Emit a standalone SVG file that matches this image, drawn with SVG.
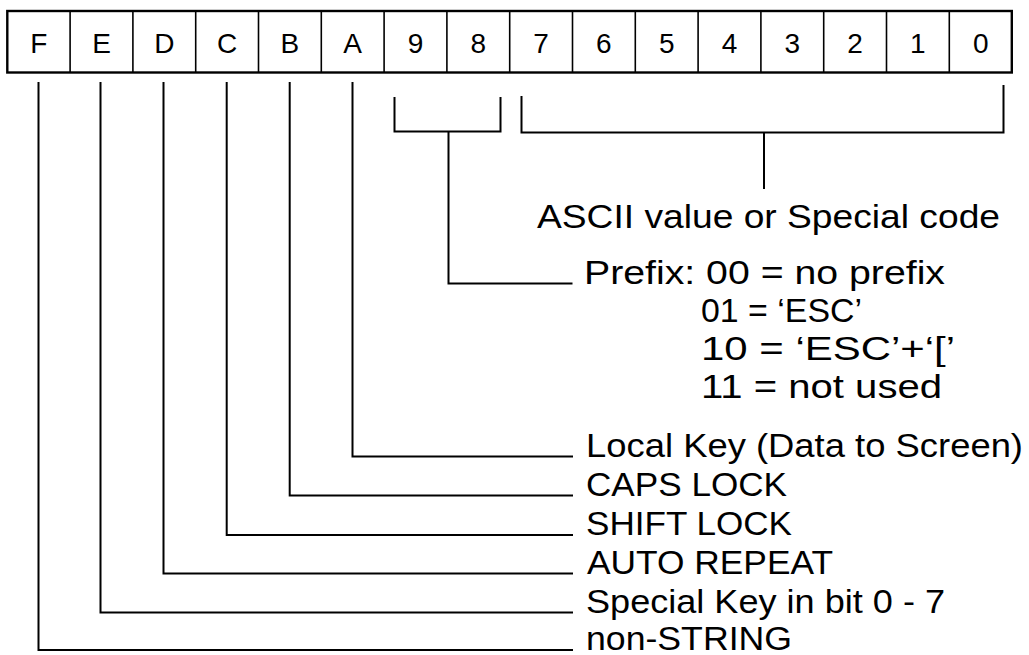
<svg xmlns="http://www.w3.org/2000/svg" width="1029" height="655" viewBox="0 0 1029 655">
<style>
.bit{font-family:"Liberation Sans",Arial,sans-serif;font-size:28px;text-anchor:middle;fill:#000}
.lbl{font-family:"Liberation Sans",Arial,sans-serif;font-size:34px;fill:#000}
.div{stroke:#000;stroke-width:1.6}
.conn path{fill:none;stroke:#000;stroke-width:2}
</style>
<rect width="1029" height="655" fill="#fff"/>
<g id="register">
<rect x="7.3" y="11" width="1004.5" height="61.5" fill="#fff" stroke="#000" stroke-width="2.4"/>
<g id="bit-F"><text class="bit" x="38.7" y="53">F</text></g>
<g id="bit-E"><line class="div" x1="70.1" y1="11" x2="70.1" y2="72.5"/><text class="bit" x="101.5" y="53">E</text></g>
<g id="bit-D"><line class="div" x1="132.9" y1="11" x2="132.9" y2="72.5"/><text class="bit" x="164.3" y="53">D</text></g>
<g id="bit-C"><line class="div" x1="195.7" y1="11" x2="195.7" y2="72.5"/><text class="bit" x="227.1" y="53">C</text></g>
<g id="bit-B"><line class="div" x1="258.5" y1="11" x2="258.5" y2="72.5"/><text class="bit" x="289.9" y="53">B</text></g>
<g id="bit-A"><line class="div" x1="321.3" y1="11" x2="321.3" y2="72.5"/><text class="bit" x="352.7" y="53">A</text></g>
<g id="bit-9"><line class="div" x1="384.1" y1="11" x2="384.1" y2="72.5"/><text class="bit" x="415.5" y="53">9</text></g>
<g id="bit-8"><line class="div" x1="446.9" y1="11" x2="446.9" y2="72.5"/><text class="bit" x="478.3" y="53">8</text></g>
<g id="bit-7"><line class="div" x1="509.7" y1="11" x2="509.7" y2="72.5"/><text class="bit" x="541.1" y="53">7</text></g>
<g id="bit-6"><line class="div" x1="572.5" y1="11" x2="572.5" y2="72.5"/><text class="bit" x="603.9" y="53">6</text></g>
<g id="bit-5"><line class="div" x1="635.3" y1="11" x2="635.3" y2="72.5"/><text class="bit" x="666.7" y="53">5</text></g>
<g id="bit-4"><line class="div" x1="698.1" y1="11" x2="698.1" y2="72.5"/><text class="bit" x="729.5" y="53">4</text></g>
<g id="bit-3"><line class="div" x1="760.9" y1="11" x2="760.9" y2="72.5"/><text class="bit" x="792.3" y="53">3</text></g>
<g id="bit-2"><line class="div" x1="823.7" y1="11" x2="823.7" y2="72.5"/><text class="bit" x="855.1" y="53">2</text></g>
<g id="bit-1"><line class="div" x1="886.5" y1="11" x2="886.5" y2="72.5"/><text class="bit" x="917.9" y="53">1</text></g>
<g id="bit-0"><line class="div" x1="949.3" y1="11" x2="949.3" y2="72.5"/><text class="bit" x="980.7" y="53">0</text></g>
</g>
<g id="connectors" class="conn">
<path d="M38.5 82 V650 H573"/>
<path d="M100.5 82 V612.5 H573"/>
<path d="M163.5 82 V573.5 H573"/>
<path d="M226.7 82 V535 H573"/>
<path d="M289.7 82 V495.5 H573"/>
<path d="M352.5 82 V456.5 H573"/>
<path d="M394.5 97 V131.5 H500.5 V97"/>
<path d="M448.5 131.5 V283.5 H572.5"/>
<path d="M521.5 96 V132.5 H1003.5 V85"/>
<path d="M764 132.5 V189"/>
</g>
<g id="labels">
<g id="lbl-ascii"><text class="lbl" x="537" y="228" textLength="463" lengthAdjust="spacingAndGlyphs">ASCII value or Special code</text></g>
<g id="lbl-prefix">
<text class="lbl" x="584" y="284" textLength="361" lengthAdjust="spacingAndGlyphs">Prefix: 00 = no prefix</text>
<text class="lbl" x="701" y="322" textLength="161" lengthAdjust="spacingAndGlyphs">01 = ‘ESC’</text>
<text class="lbl" x="701" y="360" textLength="254" lengthAdjust="spacingAndGlyphs">10 = ‘ESC’+‘[’</text>
<text class="lbl" x="701" y="398" textLength="241" lengthAdjust="spacingAndGlyphs">11 = not used</text>
</g>
<g id="lbl-local"><text class="lbl" x="586" y="457" textLength="437" lengthAdjust="spacingAndGlyphs">Local Key (Data to Screen)</text></g>
<g id="lbl-caps"><text class="lbl" x="586" y="496" textLength="201" lengthAdjust="spacingAndGlyphs">CAPS LOCK</text></g>
<g id="lbl-shift"><text class="lbl" x="586" y="535" textLength="206" lengthAdjust="spacingAndGlyphs">SHIFT LOCK</text></g>
<g id="lbl-auto"><text class="lbl" x="587" y="574" textLength="246" lengthAdjust="spacingAndGlyphs">AUTO REPEAT</text></g>
<g id="lbl-special"><text class="lbl" x="586" y="613" textLength="359" lengthAdjust="spacingAndGlyphs">Special Key in bit 0 - 7</text></g>
<g id="lbl-nonstring"><text class="lbl" x="586" y="650" textLength="206" lengthAdjust="spacingAndGlyphs">non-STRING</text></g>
</g>
</svg>
